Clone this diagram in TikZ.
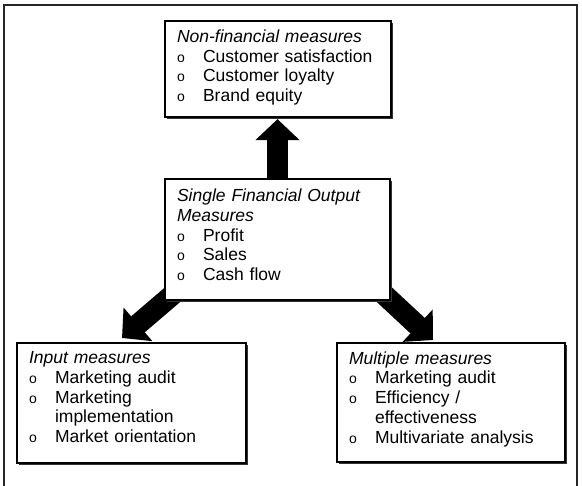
\documentclass[tikz,border=0pt]{standalone}
\usepackage{fontspec}
\setmainfont{Liberation Sans}
\usetikzlibrary{arrows.meta,shadows}
\pgfdeclarelayer{bg}
\pgfsetlayers{bg,main}
\newcommand\bul{\makebox[26pt][l]{\fontsize{14pt}{14pt}\selectfont o}}
\newcommand\cont{\hspace*{26pt}}
\begin{document}
\begin{tikzpicture}[x=1pt,y=-1pt,
  frame/.style={draw=black!85, line width=1.4pt},
  boxframe/.style={draw=black, line width=1.3pt, fill=white, rectangle, inner sep=0pt,
    drop shadow={shadow xshift=1.6pt, shadow yshift=-1.6pt, fill=black!80, opacity=1}},
  boxtext/.style={anchor=north west, inner sep=0pt, align=left, text width=215pt,
    font=\fontsize{17.5pt}{19.7pt}\selectfont},
  fatarrow/.style={line width=21pt, -{Triangle[length=21pt,width=43pt]}, black},
]
\useasboundingbox (0,0) rectangle (582,486);
\draw[frame] (4,486) -- (4,5) -- (577,5) -- (577,486);

\node[boxframe, minimum width=226pt, minimum height=96pt] (nf) at (278,69) {};
\node[boxframe, minimum width=225pt, minimum height=121pt] (sf) at (277.5,239.5) {};
\node[boxframe, minimum width=229pt, minimum height=120pt] (in) at (131.5,403) {};
\node[boxframe, minimum width=228pt, minimum height=119pt] (mm) at (451,402.5) {};

\node[boxtext] (nft) at ([xshift=12.5pt,yshift=-9.3pt]nf.north west)
  {\textit{Non-financial measures}\\ \bul Customer satisfaction\\ \bul Customer loyalty\\ \bul Brand equity};
\node[boxtext] (sft) at ([xshift=12.5pt,yshift=-10.5pt]sf.north west)
  {\textit{Single Financial Output}\\ \textit{Measures}\\ \bul Profit\\ \bul Sales\\ \bul Cash flow};
\node[boxtext] (intx) at ([xshift=12.5pt,yshift=-9.3pt]in.north west)
  {\textit{Input measures}\\ \bul Marketing audit\\ \bul Marketing\\ \cont implementation\\ \bul Market orientation};
\node[boxtext] (mmt) at ([xshift=12.5pt,yshift=-9pt]mm.north west)
  {\textit{Multiple measures}\\ \bul Marketing audit\\ \bul Efficiency /\\ \cont effectiveness\\ \bul Multivariate analysis};

\coordinate (upstart) at (277.5,200);
\coordinate (lstart) at (188,281.5);
\coordinate (ltip) at (122,338);
\coordinate (rstart) at (370,281.4);
\coordinate (rtip) at (433,340);

\begin{pgfonlayer}{bg}
\draw[fatarrow, shorten >=1.5pt] (upstart) -- (upstart |- nf.south);
\draw[fatarrow] (lstart) -- (ltip);
\draw[fatarrow] (rstart) -- (rtip);
\end{pgfonlayer}
\end{tikzpicture}
\end{document}
